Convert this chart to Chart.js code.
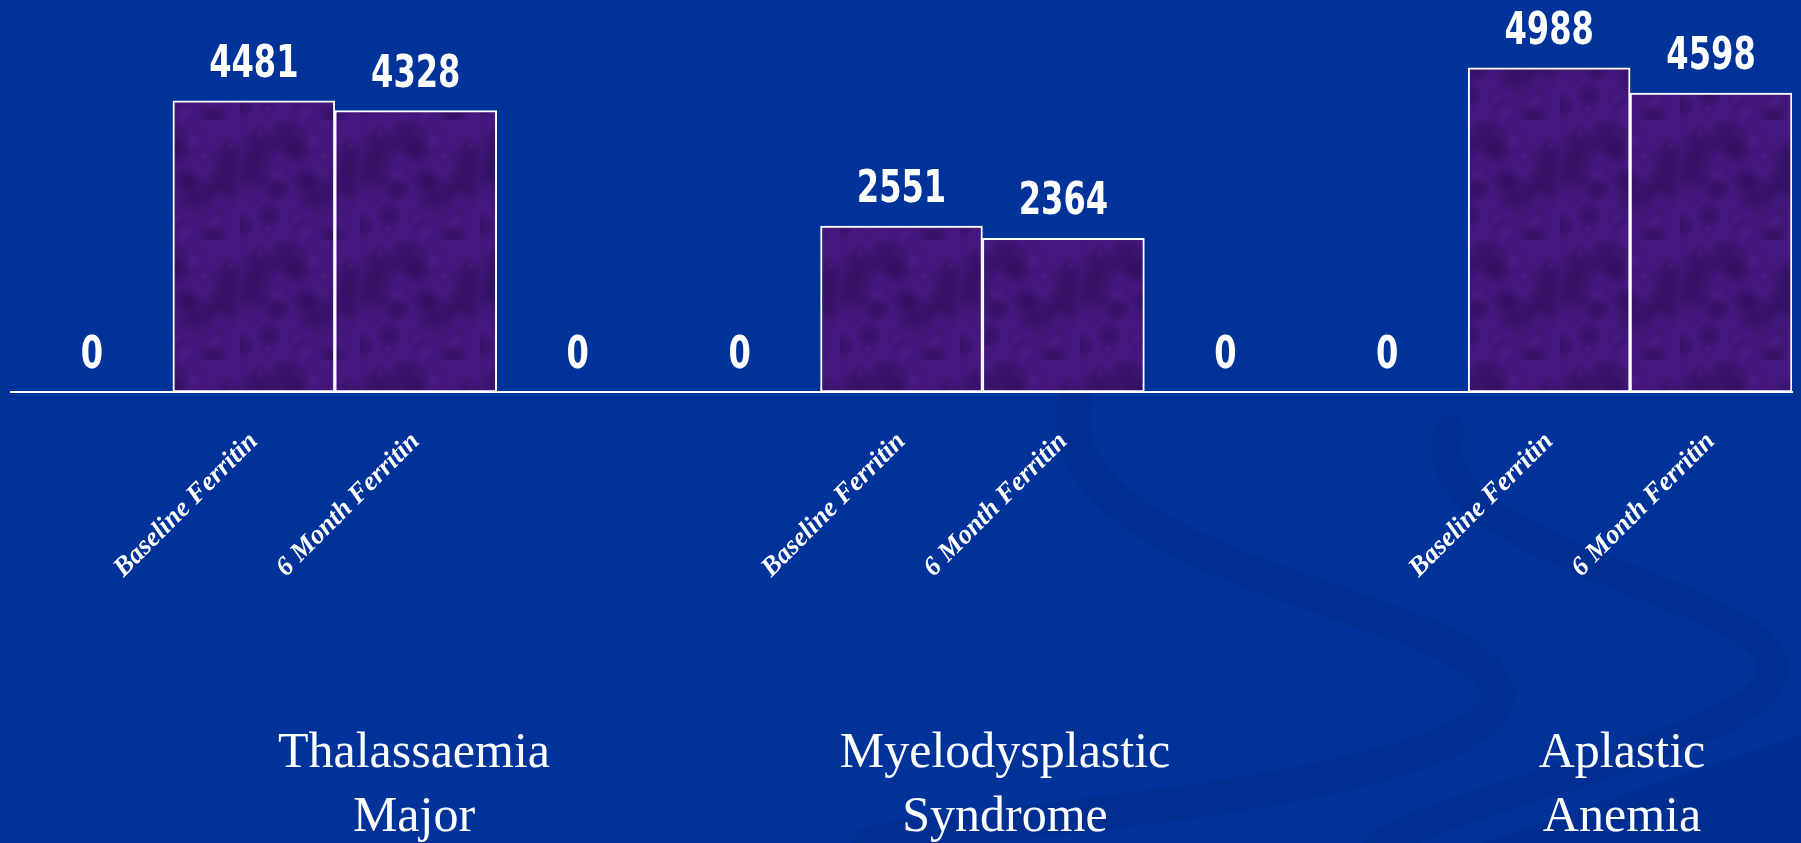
<!DOCTYPE html>
<html>
<head>
<meta charset="utf-8">
<script src="https://cdn.jsdelivr.net/npm/chart.js@4/dist/chart.umd.min.js"></script>
<style>
    html, body { margin: 0; padding: 0; }
    body {
        width: 1801px;
        height: 843px;
        overflow: hidden;
        background: #003399;
        position: relative;
    }
    #bg { position: absolute; left: 0; top: 0; }
    #chartBox { position: absolute; left: 0; top: 0; width: 1801px; height: 843px; }
    .group-label {
        position: absolute;
        width: 400px;
        margin-left: -200px;
        text-align: center;
        color: #fff;
        font-family: 'Liberation Serif', 'DejaVu Serif', serif;
        font-size: 50px;
        line-height: 64px;
        white-space: nowrap;
    }
</style>
</head>
<body>
<svg id="bg" width="1801" height="843">
    <path d="M 1075 400 C 1050 520, 1250 570, 1400 625 S 1520 730, 1360 770 S 1000 820, 870 843"
          fill="none" stroke="rgba(0,25,100,0.14)" stroke-width="34" stroke-linecap="round"/>
    <path d="M 1450 430 C 1420 520, 1610 565, 1715 615 S 1770 705, 1660 745 S 1460 805, 1380 843"
          fill="none" stroke="rgba(0,25,100,0.14)" stroke-width="30" stroke-linecap="round"/>
    <path d="M 1801 735 L 1801 843 L 1480 843 Z" fill="rgba(0,25,100,0.16)"/>
</svg>
<div id="chartBox"><canvas id="ferritinChart"></canvas></div>

<script>
// Data
const categories = ['', 'Baseline Ferritin', '6 Month Ferritin', '', '', 'Baseline Ferritin', '6 Month Ferritin', '', '', 'Baseline Ferritin', '6 Month Ferritin'];
const ferritin = [0, 4481, 4328, 0, 0, 2551, 2364, 0, 0, 4988, 4598];
const diseaseGroups = [['Thalassaemia', 'Major'], ['Myelodysplastic', 'Syndrome'], ['Aplastic', 'Anemia']];

// where the disease names sit on the slide
const groupLabelX = [414, 1005, 1622];
const groupLabelTop = 718;

document.addEventListener('DOMContentLoaded', () => {
    // purple mottled fill for bars (decoration only)
    function makeTexture() {
        const c = document.createElement('canvas');
        c.width = 120;
        c.height = 120;
        const g = c.getContext('2d');
        g.fillStyle = '#45177f';
        g.fillRect(0, 0, 120, 120);
        for (let k = 0; k < 24; k++) {
            const x = (k * 37) % 120;
            const y = (k * 53 + (k % 3) * 17) % 120;
            const r = 10 + (k % 4) * 4;
            const col = k % 2 ? 'rgba(25,5,60,0.35)' : 'rgba(100,40,170,0.22)';
            const grad = g.createRadialGradient(x, y, 0, x, y, r);
            grad.addColorStop(0, col);
            grad.addColorStop(1, 'rgba(0,0,0,0)');
            g.fillStyle = grad;
            g.fillRect(x - r, y - r, r * 2, r * 2);
        }
        return g.createPattern(c, 'repeat');
    }

    const valueLabels = {
        id: 'valueLabels',
        afterDatasetsDraw(chart) {
            const ctx = chart.ctx;
            const meta = chart.getDatasetMeta(0);
            ctx.save();
            ctx.fillStyle = '#ffffff';
            ctx.font = 'bold 44px "DejaVu Sans", sans-serif';
            ctx.textAlign = 'center';
            ctx.textBaseline = 'alphabetic';
            meta.data.forEach((bar, i) => {
                ctx.save();
                ctx.translate(bar.x, bar.y - 24);
                ctx.scale(0.73, 1);
                ctx.fillText(String(ferritin[i]), 0, 0);
                ctx.restore();
            });
            ctx.restore();
        }
    };

    new Chart(document.getElementById('ferritinChart'), {
        type: 'bar',
        data: {
            labels: categories,
            datasets: [{
                data: ferritin,
                backgroundColor: makeTexture(),
                borderColor: '#ffffff',
                borderWidth: 2,
                borderSkipped: false,
                barPercentage: 1,
                categoryPercentage: 1
            }]
        },
        options: {
            responsive: true,
            maintainAspectRatio: false,
            animation: false,
            layout: { padding: { top: 2, left: 11, right: 9, bottom: 0 } },
            plugins: {
                legend: { display: false },
                tooltip: { enabled: false }
            },
            scales: {
                x: {
                    grid: { display: false, drawTicks: false },
                    border: { display: true, color: '#ffffff', width: 2 },
                    ticks: {
                        color: '#ffffff',
                        autoSkip: false,
                        minRotation: 45,
                        maxRotation: 45,
                        padding: 34,
                        font: { family: "'Liberation Serif', serif", size: 27, style: 'italic', weight: 'bold', lineHeight: 1.2 }
                    },
                    afterFit: (scale) => { scale.height = 451; }
                },
                y: {
                    display: false,
                    min: 0,
                    max: 6000
                }
            }
        },
        plugins: [valueLabels]
    });

    diseaseGroups.forEach((lines, i) => {
        const div = document.createElement('div');
        div.className = 'group-label';
        div.style.left = groupLabelX[i] + 'px';
        div.style.top = groupLabelTop + 'px';
        div.innerHTML = lines.join('<br>');
        document.body.appendChild(div);
    });
});
</script>
</body>
</html>
